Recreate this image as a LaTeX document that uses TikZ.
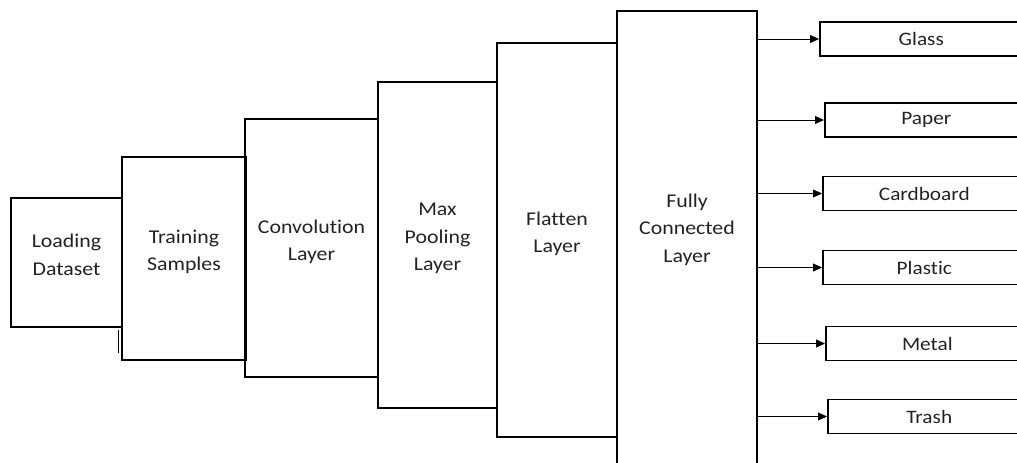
\documentclass[tikz,border=0pt]{standalone}
\usepackage{fontspec}
\setmainfont[Ligatures=NoCommon,FakeStretch=1.12]{Carlito}
\usetikzlibrary{arrows.meta,positioning}
\definecolor{Ink}{HTML}{222222}

\begin{document}
\begin{tikzpicture}[x=1pt,y=-1pt,
    layer/.style={draw=black,line width=1.6pt,align=center,inner sep=0pt,
      text=Ink,text depth=16pt,font=\fontsize{19.5}{27.5}\selectfont},
    outbox/.style={draw=black,line width=1.6pt,anchor=west,inner sep=0pt,
      minimum width=203pt,minimum height=34pt,text=Ink,
      font=\fontsize{19}{23}\selectfont},
    feed/.style={-{Triangle[length=9pt,width=8pt]},line width=0.8pt}]
    \useasboundingbox (0,0) rectangle (1017,463);
    \clip (0,0) rectangle (1017,463);

    % pipeline stages, growing to the right
    \node[layer,minimum width=111pt,minimum height=129pt] (load) at (66.5,262.5) {Loading\\Dataset};
    \node[layer,minimum width=124pt,minimum height=203pt] (train) at (184,258.5) {Training\\Samples};
    \node[layer,minimum width=133pt,minimum height=258pt] (conv) at (311.5,248) {Convolution\\Layer};
    \node[layer,minimum width=119pt,minimum height=326pt] (pool) at (437.5,245) {Max\\Pooling\\Layer};
    \node[layer,minimum width=120pt,minimum height=394pt] (flat) at (557,240) {Flatten\\Layer};
    \node[layer,text depth=30pt,minimum width=140pt,minimum height=464pt] (fc) at (687,243) {Fully\\Connected\\Layer};

    % stray tick under the first box
    \draw[line width=0.8pt] (118,330) -- (118,353);

    % output classes
    \node[outbox] (glass) at (819,39) {Glass};
    \node[outbox] (paper) at (824,120) {Paper};
    \node[outbox] (card) at (822,193.5) {Cardboard};
    \node[outbox] (plastic) at (822,267.5) {Plastic};
    \node[outbox] (metal) at (825,343.5) {Metal};
    \node[outbox] (trash) at (827,416.5) {Trash};

    \foreach \c in {glass,paper,card,plastic,metal,trash}
      \draw[feed] (fc.east |- \c.west) -- (\c.west);
  \end{tikzpicture}
\end{document}
